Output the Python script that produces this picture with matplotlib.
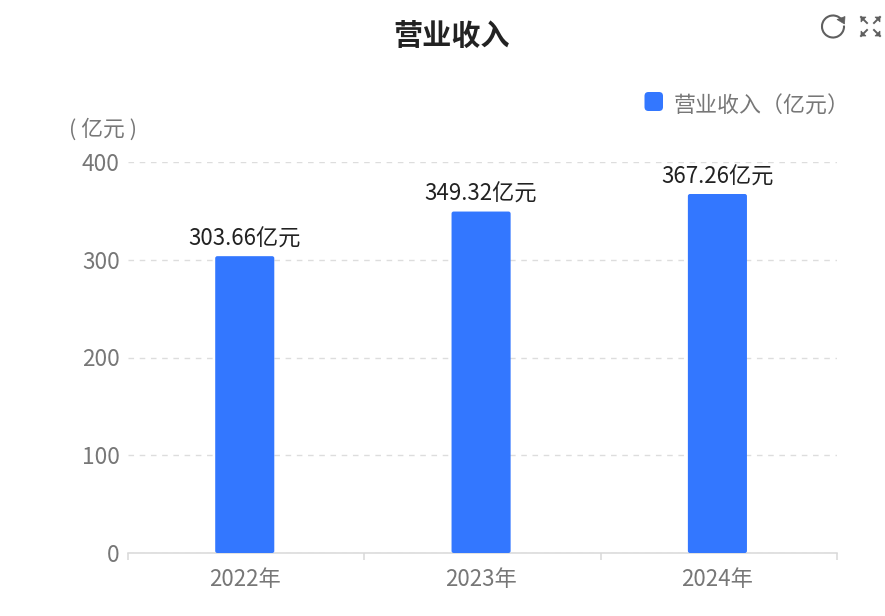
import matplotlib
matplotlib.use("Agg")
import matplotlib.pyplot as plt
from matplotlib.patches import FancyBboxPatch, Arc, Polygon
from matplotlib.lines import Line2D

plt.rcParams["font.family"] = ["Noto Sans CJK SC", "DejaVu Sans"]

years = ["2022年", "2023年", "2024年"]
revenue = [303.66, 349.32, 367.26]
y_ticks = [0, 100, 200, 300, 400]
W, H = 885, 616
dpi = 100

fig = plt.figure(figsize=(W / dpi, H / dpi), dpi=dpi)
ax = fig.add_axes([128 / W, 1 - 553 / H, (837 - 128) / W, (553 - 162) / H])
ax.set_xlim(0, 3)
ax.set_ylim(0, 400)

bar_blue = "#3377ff"
bar_w = 0.25
x_pos = [i + 0.494 for i in range(len(years))]
# rounded bars, aspect makes the corners circular in pixels
for x, v in zip(x_pos, revenue):
    ax.add_patch(FancyBboxPatch((x - bar_w / 2, 0), bar_w, v,
                                boxstyle="round,pad=0,rounding_size=0.009",
                                mutation_aspect=240, fc=bar_blue, ec="none", zorder=3))
    ax.annotate(f"{v:.2f}亿元", (x, v), xytext=(0, 4), textcoords="offset points",
                ha="center", va="bottom", fontsize=16, color="#222222")

ax.set_yticks(y_ticks)
ax.set_xticks([0, 1, 2, 3])
ax.set_xticklabels([])
ax.set_xticks(x_pos, minor=True)
ax.set_xticklabels(years, minor=True, fontsize=16, color="#777777")
ax.tick_params(axis="x", which="minor", length=0, pad=11)
ax.tick_params(axis="x", which="major", length=5, color="#d9d9d9", width=1.1)
ax.tick_params(axis="y", length=0, labelsize=16.3, labelcolor="#777777", pad=6)
ax.grid(axis="y", color="#dddddd", linestyle=(0, (4, 4.08)), linewidth=1, zorder=0)
for s in ["top", "right", "left"]:
    ax.spines[s].set_visible(False)
ax.spines["bottom"].set_color("#d9d9d9")
ax.spines["bottom"].set_linewidth(1.1)

fig.text(452 / W, 1 - 36 / H, "营业收入", ha="center", va="center", fontsize=21,
         fontweight="bold", color="#222222")
fig.text(103 / W, 1 - 130 / H, "( 亿元 )", ha="center", va="center", fontsize=15.7, color="#777777")
fig.text(674 / W, 1 - 107 / H, "营业收入（亿元）", ha="left", va="center", fontsize=15.8, color="#777777")

# overlay axes in pixel coords for legend swatch and toolbar icons
ov = fig.add_axes([0, 0, 1, 1], facecolor="none")
ov.set_xlim(0, W)
ov.set_ylim(H, 0)
ov.axis("off")
ov.add_patch(FancyBboxPatch((644.5, 92), 18.5, 19, boxstyle="round,pad=0,rounding_size=4",
                            fc=bar_blue, ec="none"))

icon = "#5f5f5f"
ov.add_patch(Arc((833, 26.5), 22, 22, theta1=-5, theta2=325, color=icon, lw=1.5))
ov.add_patch(Polygon([[837, 19.5], [845, 16.5], [844.5, 24]], closed=True, fc=icon, ec=icon, lw=0.5))
for tx, ty, dx, dy in [(861, 17, 1, 1), (880, 17, -1, 1), (861, 36, 1, -1), (880, 36, -1, -1)]:
    ov.add_line(Line2D([tx, tx + 6 * dx], [ty, ty + 6 * dy], color=icon, lw=1.4))
    ov.add_patch(Polygon([[tx, ty], [tx + 5 * dx, ty], [tx, ty + 5 * dy]], closed=True, fc=icon, ec=icon, lw=0.5))

fig.savefig("out.png", dpi=dpi)
